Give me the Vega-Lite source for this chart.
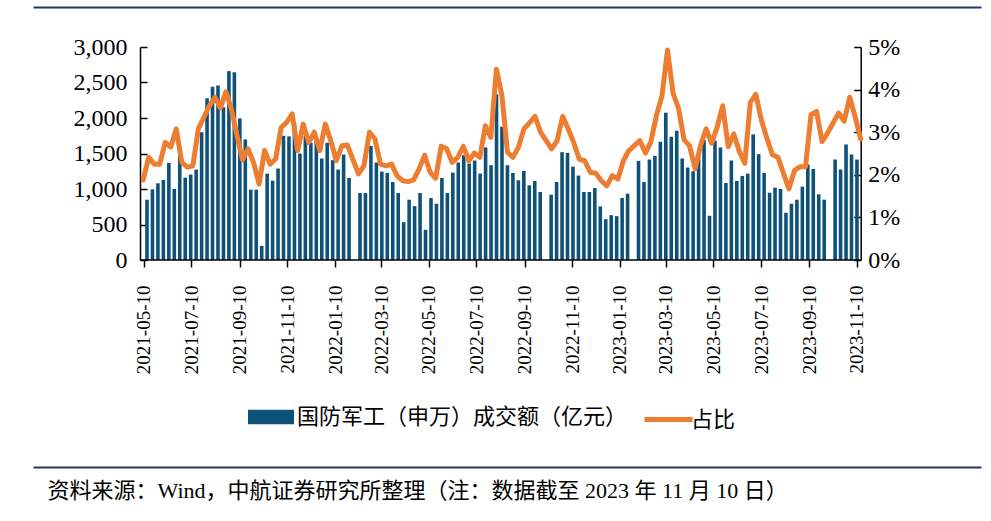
{
  "$schema": "https://vega.github.io/schema/vega-lite/v6.json",
  "width": 948,
  "height": 213,
  "padding": {"left": 33, "top": 7, "right": 10, "bottom": 0},
  "autosize": {"type": "pad"},
  "background": "white",
  "config": {
    "view": {"stroke": null},
    "font": "Liberation Serif",
    "axis": {
      "grid": false,
      "labelFont": "Liberation Serif",
      "labelFontSize": 20,
      "labelColor": "#000000",
      "domainColor": "#000000",
      "tickColor": "#000000",
      "domainWidth": 1.5,
      "tickWidth": 1.5
    },
    "legend": {
      "labelFont": "Liberation Serif, Noto Sans CJK SC",
      "labelFontSize": 22,
      "labelColor": "#000000",
      "labelLimit": 600
    }
  },
  "data": {
    "values": [
      {"date": "2021-05-14", "amount": 849, "ratio": 1.88},
      {"date": "2021-05-21", "amount": 995, "ratio": 2.41},
      {"date": "2021-05-28", "amount": 1080, "ratio": 2.25},
      {"date": "2021-06-04", "amount": 1127, "ratio": 2.25},
      {"date": "2021-06-11", "amount": 1368, "ratio": 2.76},
      {"date": "2021-06-18", "amount": 1000, "ratio": 2.65},
      {"date": "2021-06-25", "amount": 1571, "ratio": 3.08},
      {"date": "2021-07-02", "amount": 1160, "ratio": 2.29},
      {"date": "2021-07-09", "amount": 1203, "ratio": 2.18},
      {"date": "2021-07-16", "amount": 1274, "ratio": 2.21},
      {"date": "2021-07-23", "amount": 1800, "ratio": 3.08},
      {"date": "2021-07-30", "amount": 2278, "ratio": 3.35},
      {"date": "2021-08-06", "amount": 2439, "ratio": 3.62},
      {"date": "2021-08-13", "amount": 2458, "ratio": 3.82},
      {"date": "2021-08-20", "amount": 2150, "ratio": 3.57},
      {"date": "2021-08-27", "amount": 2660, "ratio": 3.95},
      {"date": "2021-09-03", "amount": 2646, "ratio": 3.54},
      {"date": "2021-09-10", "amount": 1995, "ratio": 2.92},
      {"date": "2021-09-17", "amount": 1698, "ratio": 2.35},
      {"date": "2021-09-24", "amount": 991, "ratio": 2.61},
      {"date": "2021-10-01", "amount": 991, "ratio": 2.29},
      {"date": "2021-10-08", "amount": 198, "ratio": 1.78},
      {"date": "2021-10-15", "amount": 1217, "ratio": 2.57},
      {"date": "2021-10-22", "amount": 1118, "ratio": 2.25},
      {"date": "2021-10-29", "amount": 1288, "ratio": 2.37},
      {"date": "2021-11-05", "amount": 1750, "ratio": 3.11},
      {"date": "2021-11-12", "amount": 1741, "ratio": 3.23},
      {"date": "2021-11-19", "amount": 1930, "ratio": 3.43},
      {"date": "2021-11-26", "amount": 1500, "ratio": 2.57},
      {"date": "2021-12-03", "amount": 1745, "ratio": 3.19},
      {"date": "2021-12-10", "amount": 1651, "ratio": 2.76},
      {"date": "2021-12-17", "amount": 1689, "ratio": 3.0},
      {"date": "2021-12-24", "amount": 1429, "ratio": 2.57},
      {"date": "2021-12-31", "amount": 1651, "ratio": 3.19},
      {"date": "2022-01-07", "amount": 1406, "ratio": 2.8},
      {"date": "2022-01-14", "amount": 1274, "ratio": 2.33},
      {"date": "2022-01-21", "amount": 1486, "ratio": 2.68},
      {"date": "2022-01-28", "amount": 1156, "ratio": 2.7},
      {"date": "2022-02-11", "amount": 943, "ratio": 2.02},
      {"date": "2022-02-18", "amount": 943, "ratio": 2.21},
      {"date": "2022-02-25", "amount": 1608, "ratio": 3.0},
      {"date": "2022-03-04", "amount": 1373, "ratio": 2.84},
      {"date": "2022-03-11", "amount": 1245, "ratio": 2.25},
      {"date": "2022-03-18", "amount": 1226, "ratio": 2.21},
      {"date": "2022-03-25", "amount": 1099, "ratio": 2.25},
      {"date": "2022-04-01", "amount": 943, "ratio": 1.98},
      {"date": "2022-04-08", "amount": 533, "ratio": 1.86},
      {"date": "2022-04-15", "amount": 849, "ratio": 1.84},
      {"date": "2022-04-22", "amount": 759, "ratio": 1.88},
      {"date": "2022-04-29", "amount": 943, "ratio": 2.14},
      {"date": "2022-05-06", "amount": 425, "ratio": 2.46},
      {"date": "2022-05-13", "amount": 873, "ratio": 2.06},
      {"date": "2022-05-20", "amount": 792, "ratio": 1.92},
      {"date": "2022-05-27", "amount": 1156, "ratio": 2.67},
      {"date": "2022-06-03", "amount": 943, "ratio": 2.61},
      {"date": "2022-06-10", "amount": 1231, "ratio": 2.29},
      {"date": "2022-06-17", "amount": 1373, "ratio": 2.41},
      {"date": "2022-06-24", "amount": 1476, "ratio": 2.67},
      {"date": "2022-07-01", "amount": 1358, "ratio": 2.33},
      {"date": "2022-07-08", "amount": 1401, "ratio": 2.51},
      {"date": "2022-07-15", "amount": 1217, "ratio": 2.41},
      {"date": "2022-07-22", "amount": 1585, "ratio": 3.15},
      {"date": "2022-07-29", "amount": 1335, "ratio": 2.88},
      {"date": "2022-08-05", "amount": 2335, "ratio": 4.48},
      {"date": "2022-08-12", "amount": 1877, "ratio": 3.86},
      {"date": "2022-08-19", "amount": 1335, "ratio": 2.53},
      {"date": "2022-08-26", "amount": 1226, "ratio": 2.41},
      {"date": "2022-09-02", "amount": 1123, "ratio": 2.65},
      {"date": "2022-09-09", "amount": 1255, "ratio": 3.08},
      {"date": "2022-09-16", "amount": 1052, "ratio": 3.22},
      {"date": "2022-09-23", "amount": 1113, "ratio": 3.37},
      {"date": "2022-09-30", "amount": 958, "ratio": 3.0},
      {"date": "2022-10-14", "amount": 920, "ratio": 2.61},
      {"date": "2022-10-21", "amount": 1099, "ratio": 2.8},
      {"date": "2022-10-28", "amount": 1519, "ratio": 3.37},
      {"date": "2022-11-04", "amount": 1509, "ratio": 3.08},
      {"date": "2022-11-11", "amount": 1316, "ratio": 2.76},
      {"date": "2022-11-18", "amount": 1189, "ratio": 2.37},
      {"date": "2022-11-25", "amount": 958, "ratio": 2.33},
      {"date": "2022-12-02", "amount": 958, "ratio": 2.06},
      {"date": "2022-12-09", "amount": 1014, "ratio": 2.04},
      {"date": "2022-12-16", "amount": 755, "ratio": 1.86},
      {"date": "2022-12-23", "amount": 575, "ratio": 1.74},
      {"date": "2022-12-30", "amount": 632, "ratio": 1.98},
      {"date": "2023-01-06", "amount": 618, "ratio": 1.9},
      {"date": "2023-01-13", "amount": 873, "ratio": 2.33},
      {"date": "2023-01-20", "amount": 934, "ratio": 2.57},
      {"date": "2023-02-03", "amount": 1396, "ratio": 2.8},
      {"date": "2023-02-10", "amount": 1099, "ratio": 2.51},
      {"date": "2023-02-17", "amount": 1415, "ratio": 2.78},
      {"date": "2023-02-24", "amount": 1467, "ratio": 3.4},
      {"date": "2023-03-03", "amount": 1665, "ratio": 3.85},
      {"date": "2023-03-10", "amount": 2075, "ratio": 4.93},
      {"date": "2023-03-17", "amount": 1736, "ratio": 3.92},
      {"date": "2023-03-24", "amount": 1821, "ratio": 3.56},
      {"date": "2023-03-31", "amount": 1429, "ratio": 2.82},
      {"date": "2023-04-07", "amount": 1302, "ratio": 2.68},
      {"date": "2023-04-14", "amount": 1250, "ratio": 2.14},
      {"date": "2023-04-21", "amount": 1495, "ratio": 2.7},
      {"date": "2023-04-28", "amount": 1689, "ratio": 3.08},
      {"date": "2023-05-05", "amount": 623, "ratio": 2.74},
      {"date": "2023-05-12", "amount": 1679, "ratio": 3.12},
      {"date": "2023-05-19", "amount": 1585, "ratio": 3.62},
      {"date": "2023-05-26", "amount": 1085, "ratio": 2.66},
      {"date": "2023-06-02", "amount": 1401, "ratio": 2.96},
      {"date": "2023-06-09", "amount": 1113, "ratio": 2.55},
      {"date": "2023-06-16", "amount": 1184, "ratio": 2.27},
      {"date": "2023-06-23", "amount": 1217, "ratio": 3.7},
      {"date": "2023-06-30", "amount": 1769, "ratio": 3.89},
      {"date": "2023-07-07", "amount": 1491, "ratio": 3.29},
      {"date": "2023-07-14", "amount": 1226, "ratio": 2.86},
      {"date": "2023-07-21", "amount": 948, "ratio": 2.47},
      {"date": "2023-07-28", "amount": 1019, "ratio": 2.41},
      {"date": "2023-08-04", "amount": 1000, "ratio": 2.04},
      {"date": "2023-08-11", "amount": 665, "ratio": 1.67},
      {"date": "2023-08-18", "amount": 792, "ratio": 2.1},
      {"date": "2023-08-25", "amount": 849, "ratio": 2.19},
      {"date": "2023-09-01", "amount": 1033, "ratio": 2.19},
      {"date": "2023-09-08", "amount": 1344, "ratio": 3.41},
      {"date": "2023-09-15", "amount": 1283, "ratio": 3.49},
      {"date": "2023-09-22", "amount": 925, "ratio": 2.78},
      {"date": "2023-09-29", "amount": 849, "ratio": 2.98},
      {"date": "2023-10-13", "amount": 1415, "ratio": 3.45},
      {"date": "2023-10-20", "amount": 1274, "ratio": 3.26},
      {"date": "2023-10-27", "amount": 1627, "ratio": 3.82},
      {"date": "2023-11-03", "amount": 1486, "ratio": 3.36},
      {"date": "2023-11-10", "amount": 1415, "ratio": 2.84}
    ]
  },
  "layer": [
    {
      "mark": {"type": "bar", "width": 3.6, "color": "#0F5279"},
      "encoding": {
        "x": {
          "field": "date",
          "type": "temporal",
          "scale": {
            "domain": [
              {"year": 2020, "month": 12, "date": 25, "hours": 7, "minutes": 12},
              {"year": 2024, "month": 4, "date": 10, "hours": 13, "minutes": 41}
            ],
            "nice": false
          },
          "axis": {
            "orient": "bottom",
            "title": null,
            "domain": false,
            "values": [
              {"year": 2021, "month": 5, "date": 10},
              {"year": 2021, "month": 7, "date": 10},
              {"year": 2021, "month": 9, "date": 10},
              {"year": 2021, "month": 11, "date": 10},
              {"year": 2022, "month": 1, "date": 10},
              {"year": 2022, "month": 3, "date": 10},
              {"year": 2022, "month": 5, "date": 10},
              {"year": 2022, "month": 7, "date": 10},
              {"year": 2022, "month": 9, "date": 10},
              {"year": 2022, "month": 11, "date": 10},
              {"year": 2023, "month": 1, "date": 10},
              {"year": 2023, "month": 3, "date": 10},
              {"year": 2023, "month": 5, "date": 10},
              {"year": 2023, "month": 7, "date": 10},
              {"year": 2023, "month": 9, "date": 10},
              {"year": 2023, "month": 11, "date": 10}
            ],
            "format": "%Y-%m-%d",
            "labelAngle": 270,
            "labelFontSize": 19,
            "labelPadding": 18,
            "tickSize": 7,
            "labelFlush": false,
            "labelOverlap": false
          }
        },
        "y": {
          "field": "amount",
          "type": "quantitative",
          "scale": {"domain": [0, 3000], "nice": false},
          "axis": {
            "orient": "left",
            "title": null,
            "offset": -107,
            "values": [0, 500, 1000, 1500, 2000, 2500, 3000],
            "format": ",d",
            "labelFontSize": 24,
            "tickSize": -7,
            "labelPadding": 20
          }
        },
        "color": {
          "datum": "国防军工（申万）成交额（亿元）",
          "type": "nominal",
          "scale": {"range": ["#0F5279"]},
          "legend": {
            "orient": "none",
            "legendX": 215,
            "legendY": 347,
            "title": null,
            "symbolType": "M-1,-0.32H1V0.32H-1Z",
            "symbolSize": 2116,
            "symbolStrokeWidth": 0,
            "labelOffset": 3
          }
        }
      }
    },
    {
      "mark": {"type": "line", "strokeWidth": 5, "strokeJoin": "round", "strokeCap": "round"},
      "encoding": {
        "x": {
          "field": "date",
          "type": "temporal",
          "scale": {
            "domain": [
              {"year": 2020, "month": 12, "date": 25, "hours": 7, "minutes": 12},
              {"year": 2024, "month": 4, "date": 10, "hours": 13, "minutes": 41}
            ],
            "nice": false
          },
          "axis": {
            "orient": "top",
            "title": null,
            "offset": 40,
            "domain": true,
            "domainColor": "#203864",
            "domainWidth": 2,
            "ticks": false,
            "labels": false
          }
        },
        "y": {
          "field": "ratio",
          "type": "quantitative",
          "scale": {"domain": [0, 5], "nice": false},
          "axis": {
            "orient": "right",
            "title": null,
            "offset": -120.3,
            "values": [0, 1, 2, 3, 4, 5],
            "labelExpr": "datum.value + '%'",
            "labelFontSize": 24,
            "tickSize": -7,
            "labelPadding": 14
          }
        },
        "stroke": {
          "datum": "占比",
          "type": "nominal",
          "scale": {"range": ["#ED7D31"]},
          "legend": {
            "orient": "none",
            "legendX": 609,
            "legendY": 346,
            "title": null,
            "symbolType": "stroke",
            "symbolSize": 2304,
            "symbolStrokeWidth": 5,
            "labelOffset": -4
          }
        }
      }
    },
    {
      "data": {"values": [{"start": "2021-05-10", "end": "2023-11-10"}]},
      "mark": {"type": "rule", "color": "#000000", "strokeWidth": 1.5},
      "encoding": {
        "x": {
          "field": "start",
          "type": "temporal",
          "scale": {
            "domain": [
              {"year": 2020, "month": 12, "date": 25, "hours": 7, "minutes": 12},
              {"year": 2024, "month": 4, "date": 10, "hours": 13, "minutes": 41}
            ],
            "nice": false
          },
          "axis": {
            "orient": "bottom",
            "offset": 207,
            "domain": true,
            "domainColor": "#203864",
            "domainWidth": 2,
            "ticks": false,
            "labels": false,
            "title": "资料来源：Wind，中航证券研究所整理（注：数据截至 2023 年 11 月 10 日）",
            "titleFont": "Liberation Serif, Noto Sans CJK SC",
            "titleFontSize": 22,
            "titleFontWeight": "normal",
            "titleColor": "#000000",
            "titleAnchor": "start",
            "titleAlign": "left",
            "titleBaseline": "top",
            "titlePadding": 13,
            "titleX": 14
          }
        },
        "x2": {"field": "end"},
        "y": {
          "datum": 0,
          "type": "quantitative",
          "scale": {"domain": [0, 3000], "nice": false},
          "axis": null
        }
      }
    }
  ],
  "resolve": {
    "scale": {"x": "independent", "y": "independent", "color": "independent", "stroke": "independent"},
    "axis": {"x": "independent", "y": "independent"}
  }
}
